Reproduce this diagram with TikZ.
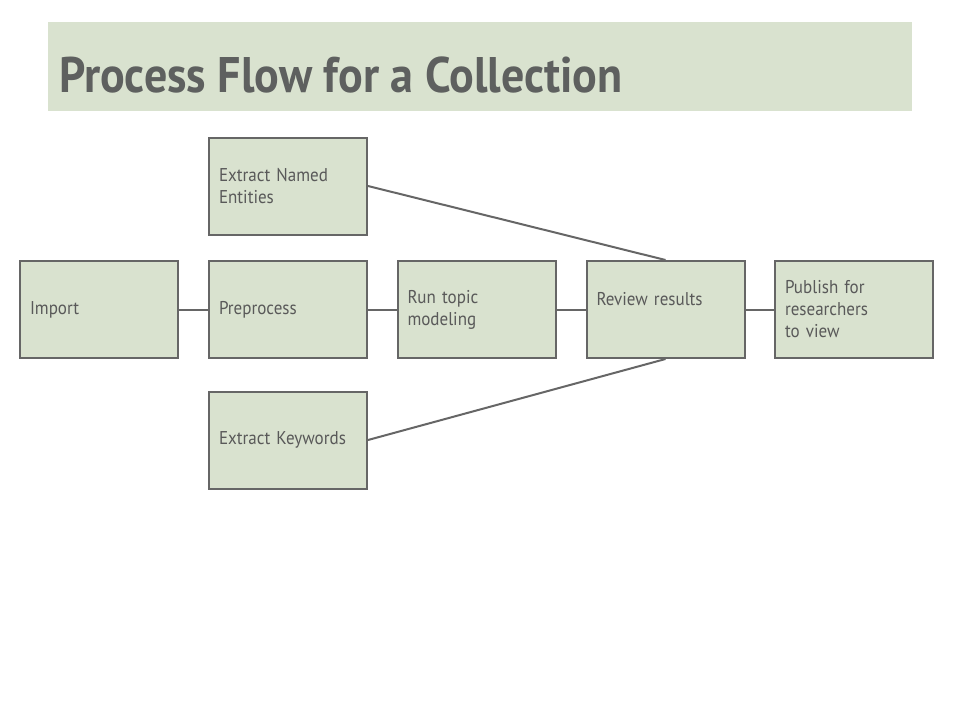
\documentclass[tikz,border=0pt]{standalone}
\usepackage{fontspec}
\setmainfont{PT Sans}[FakeStretch=0.92]
\definecolor{sage}{HTML}{D9E2CF}
\definecolor{edge}{HTML}{666666}
\definecolor{ink}{HTML}{595959}
\definecolor{heading}{HTML}{5E605F}

\begin{document}
\begin{tikzpicture}[x=1pt, y=-1pt,
  every node/.style={rectangle, draw=edge, line width=2pt, fill=sage, text=ink,
    text width=138pt, align=left, inner xsep=10pt, inner ysep=0pt,
    minimum width=158pt, minimum height=97pt, font=\fontsize{18.5}{22}\selectfont}]
  \useasboundingbox (0,0) rectangle (960,720);
  \fill[sage] (48,22) rectangle (912,111);
  \node[draw=none, fill=none, text=heading, text width=, minimum width=0pt, minimum height=0pt,
    inner sep=0pt, anchor=base west, font=\fontsize{50}{50}\selectfont\bfseries] (title) at (58,92)
    {Process Flow for a Collection};

  \node (import)   at (99, 309.5)    {Import};
  \node (preproc)  at (288, 309.5)   {Preprocess};
  \node (topic)    at (476.5, 309.5) {Run topic\\modeling};
  \node (review)   at (665.5, 309.5) {Review results\\\mbox{}};
  \node (publish)  at (854, 309.5)   {Publish for\\researchers\\to view};
  \node (ner)      at (288, 186)     {Extract Named\\Entities};
  \node (keywords) at (288, 440)     {Extract Keywords};

  \draw[edge, line width=2pt] (import) -- (preproc);
  \draw[edge, line width=2pt] (preproc) -- (topic);
  \draw[edge, line width=2pt] (topic) -- (review);
  \draw[edge, line width=2pt] (review) -- (publish);
  \draw[edge, line width=2pt] (ner.east) -- (review.north);
  \draw[edge, line width=2pt] (keywords.east) -- (review.south);
\end{tikzpicture}
\end{document}
